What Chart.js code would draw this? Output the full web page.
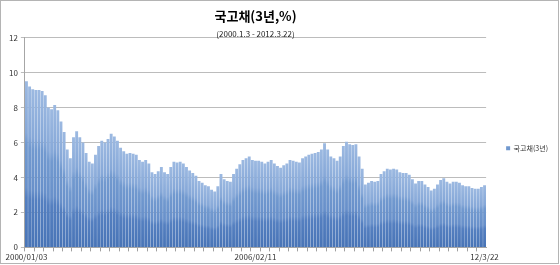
<!DOCTYPE html>
<html>
<head>
<meta charset="utf-8">
<script src="https://cdn.jsdelivr.net/npm/chart.js@4/dist/chart.umd.min.js"></script>
<style>
  html, body { margin: 0; padding: 0; background: #fff; }
  #wrap { width: 560px; height: 265px; position: relative; }
</style>
</head>
<body>
<div id="wrap"><canvas id="myChartBar"></canvas></div>
<script>
// 국고채 3년 금리, 월별 (2000/01 ~ 2012/03), 그림에서 읽은 값
const yieldValues = [
  9.5, 9.2, 9.05, 9.0, 9.0, 8.95, 8.7, 8.0, 7.9, 8.15, 7.85, 7.2,
  6.6, 5.6, 5.1, 6.3, 6.65, 6.3, 6.0, 5.4, 4.9, 4.8, 5.3, 5.8,
  6.1, 6.0, 6.2, 6.5, 6.35, 6.1, 5.7, 5.5, 5.35, 5.4, 5.35, 5.3,
  5.0, 4.9, 5.0, 4.8, 4.3, 4.2, 4.35, 4.6, 4.3, 4.2, 4.6, 4.9,
  4.85, 4.9, 4.8, 4.6, 4.4, 4.25, 4.1, 3.8, 3.7, 3.55, 3.5, 3.3,
  3.2, 3.5, 4.2, 3.9, 3.8, 3.75, 4.2, 4.5, 4.75, 5.0, 5.1, 5.2,
  5.0, 4.95, 4.95, 4.9, 4.8, 4.9, 5.0, 4.8, 4.65, 4.55, 4.7, 4.8,
  5.0, 4.95, 4.9, 4.85, 5.1, 5.2, 5.3, 5.35, 5.4, 5.45, 5.6, 5.95,
  5.6, 5.2, 5.1, 4.95, 5.2, 5.8, 6.05, 5.9, 5.85, 5.9, 5.2, 4.5,
  3.6, 3.7, 3.8, 3.75, 3.8, 4.2, 4.35, 4.5, 4.45, 4.5, 4.45, 4.3,
  4.25, 4.25, 4.15, 3.9, 3.65, 3.8, 3.8, 3.6, 3.45, 3.25, 3.35, 3.6,
  3.85, 3.95, 3.75, 3.65, 3.75, 3.75, 3.7, 3.55, 3.5, 3.5, 3.4, 3.35,
  3.35, 3.45, 3.55
];
const tickLabels = ['2000/01/03', '2006/02/11', '12/3/22'];
const tickIndex = [0, 73, 146];
const seriesName = '국고채(3년)';
const titleText = '국고채(3년,%)';
const subtitleText = '(2000.1.3 - 2012.3.22)';

const months = [];
for (let i = 0; i < yieldValues.length; i++) {
  const yr = 2000 + Math.floor(i / 12);
  const mo = (i % 12) + 1;
  months.push(yr + '/' + String(mo).padStart(2, '0'));
}

const FONT = "'Noto Sans CJK KR', 'Noto Sans', sans-serif";
const solidBlue = 'rgb(79, 124, 189)';

// 엑셀 느낌의 막대별 세로 그라데이션
function barFill(c) {
  const chart = c.chart;
  const ys = chart.scales && chart.scales.y;
  if (c.type !== 'data' || !ys || c.raw == null) return solidBlue;
  const top = ys.getPixelForValue(c.raw);
  const base = ys.getPixelForValue(0);
  if (!isFinite(top) || !isFinite(base) || base - top < 1) return solidBlue;
  const g = chart.ctx.createLinearGradient(0, base, 0, top);
  g.addColorStop(0, '#4874b6');
  g.addColorStop(0.30, '#547fc0');
  g.addColorStop(0.36, '#6890ca');
  g.addColorStop(0.62, '#7199cf');
  g.addColorStop(0.69, '#86a8d8');
  g.addColorStop(1, '#9cb9e1');
  return g;
}

const frame = {
  id: 'frame',
  afterDraw(chart) {
    const ctx = chart.ctx;
    ctx.save();
    ctx.strokeStyle = '#b4b4b4';
    ctx.lineWidth = 1;
    ctx.strokeRect(0.5, 0.5, 558, 263);
    ctx.restore();
  }
};

const ctxBar = document.getElementById('myChartBar').getContext('2d');

const myChartBar = new Chart(ctxBar, {
  type: 'bar',
  data: {
    labels: months,
    datasets: [{
      label: seriesName,
      data: yieldValues,
      backgroundColor: barFill,
      borderWidth: 0,
      barPercentage: 0.92,
      categoryPercentage: 1.0
    }]
  },
  options: {
    responsive: true,
    maintainAspectRatio: false,
    animation: false,
    layout: { padding: { left: 6, right: 2, top: 8, bottom: 2 } },
    plugins: {
      title: {
        display: true,
        fullSize: false,
        text: titleText,
        color: '#000',
        font: { size: 13, weight: 'bold', family: FONT },
        padding: { top: 0, bottom: 6 }
      },
      subtitle: {
        display: true,
        fullSize: false,
        text: subtitleText,
        color: '#222',
        font: { size: 8, family: FONT, lineHeight: 1 },
        padding: { top: 0, bottom: 0 }
      },
      legend: {
        position: 'right',
        fullSize: false,
        title: { display: true, text: ' ', font: { size: 8 }, padding: 1 },
        labels: {
          boxWidth: 4,
          boxHeight: 4,
          padding: 4,
          color: '#333',
          font: { size: 7, family: FONT }
        }
      },
      tooltip: { enabled: false }
    },
    scales: {
      x: {
        grid: {
          drawOnChartArea: false,
          tickLength: 4,
          color: c => (c.index % 3 === 0 ? '#a0a0a0' : 'rgba(0,0,0,0)')
        },
        border: { color: '#a6a6a6' },
        ticks: {
          autoSkip: false,
          maxRotation: 0,
          minRotation: 0,
          padding: 1,
          color: '#333',
          font: { size: 8, family: FONT },
          callback: (v, i) => {
            const k = tickIndex.indexOf(i);
            return k >= 0 ? tickLabels[k] : '';
          }
        }
      },
      y: {
        min: 0,
        max: 12,
        z: 1,
        grid: { color: 'rgba(95,95,95,0.42)', tickLength: 4 },
        border: { color: '#a6a6a6' },
        ticks: {
          stepSize: 2,
          padding: 3,
          color: '#333',
          font: { size: 8, family: FONT }
        }
      },
      // 플롯 영역과 범례 사이 빈 공간
      gap: {
        type: 'linear',
        position: 'right',
        display: true,
        grid: { display: false },
        border: { display: false },
        ticks: { display: false },
        afterFit: s => { s.width = 16; }
      }
    }
  },
  plugins: [frame]
});
</script>
</body>
</html>
